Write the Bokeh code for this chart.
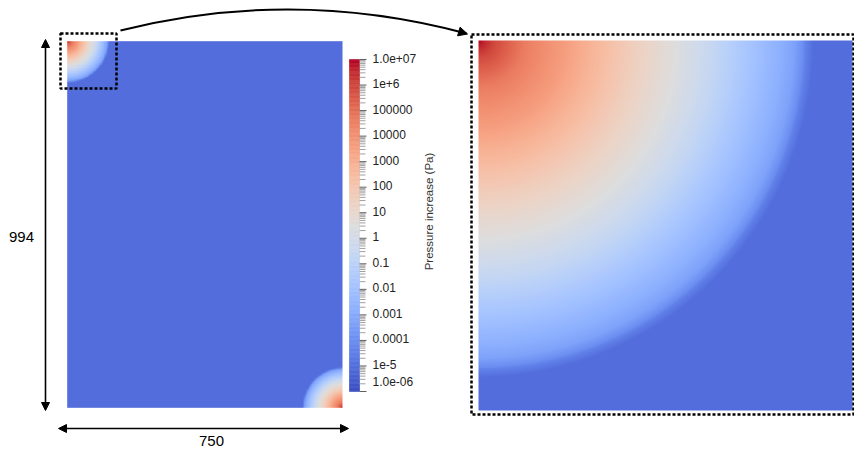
import numpy as np
from bokeh.plotting import figure
from bokeh.models import Range1d, LogScale, LogColorMapper, Arrow, NormalHead
from bokeh.core.properties import value
from bokeh.embed import file_html
from bokeh.resources import INLINE

# ---------------- data ----------------
DOMAIN_W = 750
DOMAIN_H = 994
DIM_LABELS = ["750", "994"]

# pressure sources at two opposite corners (domain units)
SOURCE_X = [0, 750]
SOURCE_Y = [994, 0]
SOURCE_R = [115, 110]

# radial profile: r / R  ->  log10(pressure)
PROFILE_R = [0.00, 0.05, 0.14, 0.25, 0.36, 0.45, 0.54, 0.60, 0.69, 0.79, 0.89, 0.94, 0.97, 1.00, 1.01]
PROFILE_LOG = [7.0, 5.9, 4.6, 3.7, 2.6, 1.7, 0.9, 0.4, -0.5, -1.6, -2.6, -3.2, -4.0, -6.0, -9.0]

# zoomed region (domain units)
ZOOM_X = [0, 128.4]
ZOOM_Y = [994 - 126.3, 994]

# colour bar
CB_LOW = 1e-6
CB_HIGH = 1e7
CB_DECADES = list(range(-6, 8))
CB_LABELS = ["1.0e-06", "1e-5", "0.0001", "0.001", "0.01", "0.1", "1", "10",
             "100", "1000", "10000", "100000", "1e+6", "1.0e+07"]
CB_TITLE = "Pressure increase (Pa)"

# ---------------- palette (Cool to Warm) ----------------
COOLWARM = [
    (0.0, 59, 76, 192), (0.03125, 68, 90, 204), (0.0625, 77, 104, 215), (0.09375, 87, 117, 225),
    (0.125, 98, 130, 234), (0.15625, 108, 142, 241), (0.1875, 119, 154, 247), (0.21875, 130, 165, 251),
    (0.25, 141, 176, 254), (0.28125, 152, 185, 255), (0.3125, 163, 194, 255), (0.34375, 174, 201, 253),
    (0.375, 184, 208, 249), (0.40625, 194, 213, 244), (0.4375, 204, 217, 238), (0.46875, 213, 219, 230),
    (0.5, 221, 221, 221), (0.53125, 229, 216, 209), (0.5625, 236, 211, 197), (0.59375, 241, 204, 185),
    (0.625, 245, 196, 173), (0.65625, 247, 187, 160), (0.6875, 247, 177, 148), (0.71875, 247, 166, 135),
    (0.75, 244, 154, 123), (0.78125, 241, 141, 111), (0.8125, 236, 127, 99), (0.84375, 229, 112, 88),
    (0.875, 222, 96, 77), (0.90625, 213, 80, 66), (0.9375, 203, 62, 56), (0.96875, 192, 40, 47),
    (1.0, 180, 4, 38),
]
FIELD_BG = (83, 110, 220)


def make_palette(anchors, n=256):
    pos = [a[0] for a in anchors]
    t = np.linspace(0, 1, n)
    chans = [np.interp(t, pos, [a[k] for a in anchors]) for k in (1, 2, 3)]
    return ["#%02x%02x%02x" % (int(round(r)), int(round(g)), int(round(b))) for r, g, b in zip(*chans)]


CB_PALETTE = make_palette(COOLWARM)
FIELD_ANCHORS = [(0.0,) + FIELD_BG] + [a for a in COOLWARM if a[0] >= 0.125]
FIELD_PALETTE = make_palette(FIELD_ANCHORS)
BG_HEX = "#%02x%02x%02x" % FIELD_BG


def field_log(X, Y):
    out = np.full(X.shape, -9.0)
    for sx_, sy_, R in zip(SOURCE_X, SOURCE_Y, SOURCE_R):
        r = np.hypot(X - sx_, Y - sy_) / R
        out = np.maximum(out, np.interp(r, PROFILE_R, PROFILE_LOG, right=-9.0))
    return out


# ---------------- layout (page pixels) ----------------
W, H = 854, 452
OFF = 0
DOM_L, DOM_T, DOM_R, DOM_B = 66.7, 40.7, 342.0, 407.3
ZM_L, ZM_T, ZM_R, ZM_B = 478.0, 40.0, 852.0, 410.0
CB_L, CB_T, CB_R, CB_B = 349.0, 59.0, 359.0, 391.0

sx = (DOM_R - DOM_L) / DOMAIN_W
sy = (DOM_B - DOM_T) / DOMAIN_H
x_range = Range1d((OFF - DOM_L) / sx, (OFF + W - DOM_L) / sx)
y_range = Range1d((DOM_B - (OFF + H)) / sy, (DOM_B - OFF) / sy)

zsx = (ZM_R - ZM_L) / (ZOOM_X[1] - ZOOM_X[0])
zsy = (ZM_B - ZM_T) / (ZOOM_Y[1] - ZOOM_Y[0])
zx_range = Range1d(ZOOM_X[0] + (OFF - ZM_L) / zsx, ZOOM_X[0] + (OFF + W - ZM_L) / zsx)
zy_range = Range1d(ZOOM_Y[0] - (OFF + H - ZM_B) / zsy, ZOOM_Y[1] + (ZM_T - OFF) / zsy)

dec = (np.log10(CB_HIGH) - np.log10(CB_LOW)) / (CB_B - CB_T)
cb_range = Range1d(10 ** (np.log10(CB_LOW) - (OFF + H - CB_B) * dec),
                   10 ** (np.log10(CB_HIGH) + (CB_T - OFF) * dec))

p = figure(width=W, height=H, x_range=x_range, y_range=y_range,
           toolbar_location=None, output_backend="svg", min_border=0,
           x_axis_location=None, y_axis_location=None,
           outline_line_color=None, background_fill_color="white",
           border_fill_color="white")
p.grid.visible = False
p.extra_x_ranges = {"px": Range1d(OFF, OFF + W), "zx": zx_range}
p.extra_y_ranges = {"py": Range1d(OFF + H, OFF), "zy": zy_range, "cbar": cb_range}
p.extra_y_scales = {"cbar": LogScale()}

field_mapper = LogColorMapper(palette=FIELD_PALETTE, low=CB_LOW, high=CB_HIGH,
                              low_color=BG_HEX, high_color=FIELD_PALETTE[-1])

# main field
nx, ny = 375, 497
xc = (np.arange(nx) + 0.5) * DOMAIN_W / nx
yc = (np.arange(ny) + 0.5) * DOMAIN_H / ny
XX, YY = np.meshgrid(xc, yc)
main_field = (10 ** field_log(XX, YY)).astype(np.float32)
p.image(image=[main_field], x=0, y=0, dw=DOMAIN_W, dh=DOMAIN_H, color_mapper=field_mapper)

# zoomed field
znx, zny = 374, 370
zxc = ZOOM_X[0] + (np.arange(znx) + 0.5) * (ZOOM_X[1] - ZOOM_X[0]) / znx
zyc = ZOOM_Y[0] + (np.arange(zny) + 0.5) * (ZOOM_Y[1] - ZOOM_Y[0]) / zny
ZX, ZY = np.meshgrid(zxc, zyc)
zoom_field = (10 ** field_log(ZX, ZY)).astype(np.float32)
p.image(image=[zoom_field], x=ZOOM_X[0], y=ZOOM_Y[0], dw=ZOOM_X[1] - ZOOM_X[0],
        dh=ZOOM_Y[1] - ZOOM_Y[0], color_mapper=field_mapper,
        x_range_name="zx", y_range_name="zy")

# colour bar gradient
edges = np.linspace(np.log10(CB_LOW), np.log10(CB_HIGH), len(CB_PALETTE) + 1)
p.quad(left=CB_L, right=CB_R, bottom=10 ** edges[:-1], top=10 ** edges[1:],
       fill_color=CB_PALETTE, line_color=CB_PALETTE, line_width=0.6,
       x_range_name="px", y_range_name="cbar")

# ticks
major = [10.0 ** k for k in CB_DECADES]
minor = [m * 10.0 ** k for k in CB_DECADES[:-1] for m in range(2, 10)]
p.segment(x0=CB_R, x1=CB_R + 6, y0=minor, y1=minor, line_color="#a0a0a0", line_width=1,
          x_range_name="px", y_range_name="cbar")
p.segment(x0=CB_R, x1=CB_R + 7, y0=major, y1=major, line_color="#606060", line_width=1,
          x_range_name="px", y_range_name="cbar")

lab_font = value("Liberation Sans")
p.text(x=[CB_R + 13] * (len(major) - 2), y=major[1:-1], text=CB_LABELS[1:-1],
       text_baseline="middle", text_align="left", y_offset=-1.5,
       text_font=lab_font, text_font_size="12px", text_color="#222222",
       x_range_name="px", y_range_name="cbar")
p.text(x=[CB_R + 13], y=[major[-1]], text=[CB_LABELS[-1]],
       text_baseline="middle", text_align="left", y_offset=-1.5,
       text_font=lab_font, text_font_size="12px", text_color="#222222",
       x_range_name="px", y_range_name="cbar")
p.text(x=[CB_R + 13], y=[major[0]], text=[CB_LABELS[0]],
       text_baseline="middle", text_align="left", y_offset=-10,
       text_font=lab_font, text_font_size="12px", text_color="#222222",
       x_range_name="px", y_range_name="cbar")
p.text(x=[428], y=[211], text=[CB_TITLE], angle=np.pi / 2,
       text_baseline="middle", text_align="center",
       text_font=lab_font, text_font_size="11.5px", text_color="#333333",
       x_range_name="px", y_range_name="py")

# dotted boxes
p.quad(left=[60], right=[116], top=[33], bottom=[88], fill_color=None,
       line_color="black", line_width=2.5, line_dash="3 2",
       x_range_name="px", y_range_name="py")
p.quad(left=[471], right=[853], top=[34], bottom=[414], fill_color=None,
       line_color="black", line_width=2.5, line_dash="3 2",
       x_range_name="px", y_range_name="py")

# curved arrow
p.quadratic(x0=[120], y0=[30], x1=[466], y1=[33], cx=[293], cy=[-13.5],
            line_color="black", line_width=2, x_range_name="px", y_range_name="py")
p.add_layout(Arrow(end=NormalHead(size=9, fill_color="black", line_color="black"),
                   x_start=466 - 8.7, y_start=33 - 2.3, x_end=467, y_end=33.5,
                   line_alpha=0, x_range_name="px", y_range_name="py"))

# dimension arrows
p.add_layout(Arrow(start=NormalHead(size=8, fill_color="black", line_color="black"),
                   end=NormalHead(size=8, fill_color="black", line_color="black"),
                   x_start=45, y_start=410, x_end=45, y_end=39,
                   line_color="black", line_width=1.6, x_range_name="px", y_range_name="py"))
p.add_layout(Arrow(start=NormalHead(size=8, fill_color="black", line_color="black"),
                   end=NormalHead(size=8, fill_color="black", line_color="black"),
                   x_start=58, y_start=428, x_end=348, y_end=428,
                   line_color="black", line_width=1.6, x_range_name="px", y_range_name="py"))

dim_font = value("Liberation Sans")
p.text(x=[211, 21], y=[440, 236], text=DIM_LABELS,
       text_baseline="middle", text_align="center",
       text_font=dim_font, text_font_size="15px", text_color="black",
       x_range_name="px", y_range_name="py")

open("out.html", "w").write(file_html(p, INLINE))
